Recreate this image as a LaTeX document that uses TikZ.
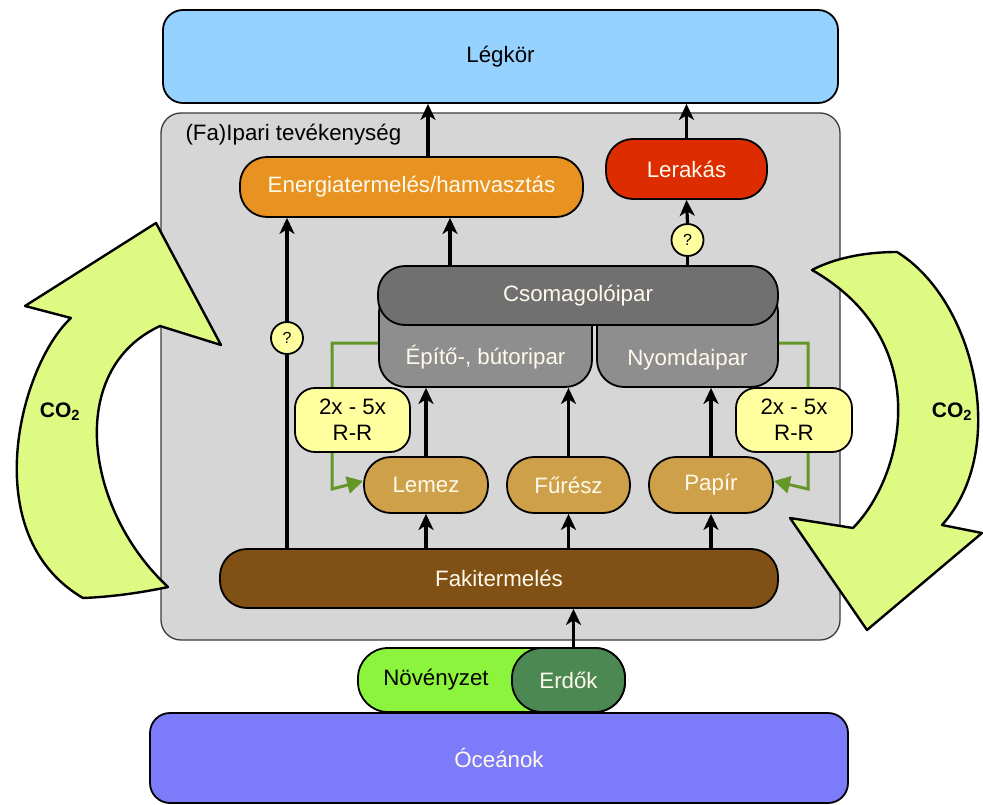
\documentclass[tikz,border=0pt]{standalone}
\usepackage{fontspec}
\setmainfont{Liberation Sans}
\usetikzlibrary{arrows.meta,calc}
\definecolor{legkorc}{RGB}{150,210,255}
\definecolor{grayc}{RGB}{214,214,214}
\definecolor{grayb}{RGB}{60,60,60}
\definecolor{orangec}{RGB}{232,146,34}
\definecolor{redc}{RGB}{221,44,0}
\definecolor{darkgrayc}{RGB}{112,112,112}
\definecolor{midgrayc}{RGB}{142,142,142}
\definecolor{tanc}{RGB}{206,160,74}
\definecolor{brownc}{RGB}{128,80,20}
\definecolor{lightgreenc}{RGB}{140,244,60}
\definecolor{darkgreenc}{RGB}{76,136,82}
\definecolor{oceanc}{RGB}{124,124,250}
\definecolor{yellowc}{RGB}{255,255,160}
\definecolor{co2c}{RGB}{222,250,130}
\definecolor{greenline}{RGB}{100,150,40}
\definecolor{textc}{RGB}{255,250,235}
\tikzset{
  txt/.style={font=\fontsize{22.3}{26}\selectfont},
  pill/.style={draw=black, line width=1.8pt, rounded corners=27pt, inner sep=0pt, txt, text=textc},
  bigbox/.style={draw=black, line width=1.8pt, rounded corners=20pt, inner sep=0pt, txt},
  qcirc/.style={circle, draw=black, line width=1.8pt, fill=yellowc, minimum size=32pt, inner sep=0pt, font=\fontsize{16}{19}\selectfont},
  rrbox/.style={draw=black, line width=1.8pt, fill=yellowc, rounded corners=20pt, minimum width=115pt, minimum height=64pt, inner sep=0pt, align=center, txt},
  arr/.style={line width=3.2pt, -{Stealth[length=16pt,width=15pt,inset=4.5pt]}},
  plainline/.style={line width=3.2pt},
  garr/.style={line width=3pt, draw=greenline, -{Triangle[length=16pt,width=17pt]}},
  co2arrow/.style={draw=black, line width=2.4pt, fill=co2c, line join=round},
  co2txt/.style={font=\bfseries\fontsize{21}{25}\selectfont}
}
\begin{document}
\begin{tikzpicture}[x=1pt,y=-1pt]
\useasboundingbox (0,0) rectangle (983,805);

% industrial activity box
\node[draw=grayb, line width=1.3pt, fill=grayc, rounded corners=20pt, minimum width=679pt, minimum height=527pt, inner sep=0pt] (ipar) at (500.5,376.5) {};
\node[txt, anchor=west] (iparlabel) at (182,135) {(Fa)Ipari tevékenység};

% atmosphere and oceans
\node[bigbox, fill=legkorc, minimum width=675pt, minimum height=93pt] (legkor) at (500.5,56.5) {Légkör};
\node[bigbox, fill=oceanc, text=textc, minimum width=698pt, minimum height=90pt] (ocean) at (499,758) {Óceánok};

% CO2 arrows
\draw[co2arrow] (160,326) -- (221,345) -- (156,223) -- (25,306) -- (71,318)
  .. controls (20,365) and (-25,535) .. (83,598)
  .. controls (110,597) and (140,593) .. (168,587)
  .. controls (85,510) and (65,370) .. (160,326) -- cycle;
\node[co2txt] (co2l) at (60,412) {CO\textsubscript{2}};
\draw[co2arrow] (812,270) .. controls (835,258) and (865,252) .. (897,252)
  .. controls (975,300) and (1010,450) .. (942,525)
  -- (982,533) -- (867,630) -- (790,518) -- (853,528)
  .. controls (905,475) and (935,340) .. (812,270) -- cycle;
\node[co2txt] (co2r) at (952,412) {CO\textsubscript{2}};

% boxes
\node[pill, fill=orangec, minimum width=343pt, minimum height=60pt] (energia) at (411.5,187) {Energiatermelés/hamvasztás};
\node[pill, fill=redc, minimum width=161pt, minimum height=60pt] (lerakas) at (686.5,169) {Lerakás};
\node[pill, fill=midgrayc, minimum width=213pt, minimum height=102pt] (epito) at (485.5,336) {};
\node[txt, text=textc] (epitotext) at (485.5,357) {Építő-, bútoripar};
\node[pill, fill=midgrayc, minimum width=181pt, minimum height=102pt] (nyomda) at (687.5,336) {};
\node[txt, text=textc] (nyomdatext) at (687.5,360) {Nyomdaipar};
\node[pill, fill=darkgrayc, minimum width=400pt, minimum height=59pt] (csomag) at (578,295.5) {Csomagolóipar};
\node[pill, fill=tanc, minimum width=124pt, minimum height=56pt] (lemez) at (426,485) {Lemez};
\node[pill, fill=tanc, minimum width=123pt, minimum height=56pt] (furesz) at (568.5,485) {Fűrész};
\node[pill, fill=tanc, minimum width=124pt, minimum height=56pt] (papir) at (711,485) {Papír};
\node[pill, fill=brownc, minimum width=558pt, minimum height=59pt] (faki) at (499,578.5) {Fakitermelés};
\node[pill, fill=lightgreenc, minimum width=267pt, minimum height=64pt, rounded corners=30pt] (noveny) at (491.5,680) {};
\node[txt] (novenytext) at (436,680) {Növényzet};
\node[pill, fill=darkgreenc, minimum width=113pt, minimum height=64pt, rounded corners=30pt] (erdok) at (568.5,680) {Erdők};

% green recycling loops
\draw[garr] ([yshift=-7pt]epito.west) -| (332,489) -- ([yshift=4pt]lemez.west);
\draw[garr] ([yshift=-7pt]nyomda.east) -| (808,489) -- ([yshift=4pt]papir.east);
\node[rrbox] (rr1) at (352.5,420) {2x - 5x\\R-R};
\node[rrbox, minimum width=116pt] (rr2) at (794,420) {2x - 5x\\R-R};

% question marks
\node[qcirc] (q1) at (287,338) {?};
\node[qcirc] (q2) at (687.5,240) {?};

% black arrows
\draw[arr] ([xshift=16.5pt]energia.north) -- ([xshift=16.5pt]energia.north |- legkor.south);
\draw[arr] (lerakas.north) -- (lerakas.north |- legkor.south);
\draw[arr] ([xshift=-128pt]csomag.north) -- ([xshift=-128pt]csomag.north |- energia.south);
\draw[plainline] (csomag.north -| q2) -- (q2.south);
\draw[arr] (q2.north) -- (lerakas.south);
\draw[plainline] (faki.north -| q1) -- (q1.south);
\draw[arr] (q1.north) -- (energia.south -| q1);
\draw[arr] (faki.north -| lemez.south) -- (lemez.south);
\draw[arr] (faki.north -| furesz.south) -- (furesz.south);
\draw[arr] (faki.north -| papir.south) -- (papir.south);
\draw[arr] (lemez.north) -- (lemez.north |- epito.south);
\draw[arr] (furesz.north) -- (furesz.north |- epito.south);
\draw[arr] (papir.north) -- (papir.north |- nyomda.south);
\draw[arr] ([xshift=5pt]erdok.north) -- ([xshift=5pt]erdok.north |- faki.south);
\end{tikzpicture}
\end{document}
